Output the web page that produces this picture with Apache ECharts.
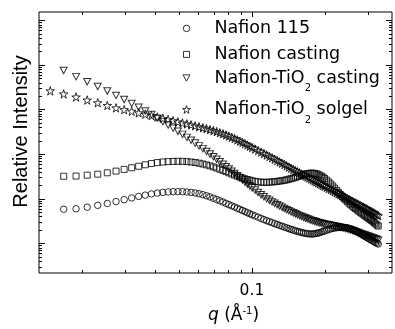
<!DOCTYPE html>
<html>
<head>
<meta charset="utf-8">
<script src="https://cdn.jsdelivr.net/npm/echarts@6/dist/echarts.min.js"></script>
<style>
  html, body { margin: 0; background: #fff; }
  #chart { width: 395px; height: 329px; }
</style>
</head>
<body>
<div id="chart"></div>
<script>
// scattering vector q (1/A), shared by all four curves
const qValues = [
  0.0148, 0.0168, 0.0189, 0.0210, 0.0232, 0.0254, 0.0276, 0.0298, 0.0320, 0.0342,
  0.0364, 0.0386, 0.0408, 0.0430, 0.0452, 0.0474, 0.0496, 0.0518, 0.0540, 0.0562,
  0.0584, 0.0606, 0.0628, 0.0650, 0.0672, 0.0694, 0.0716, 0.0738, 0.0760, 0.0782,
  0.0804, 0.0826, 0.0848, 0.0870, 0.0892, 0.0914, 0.0936, 0.0958, 0.0980, 0.1002,
  0.103, 0.106, 0.109, 0.112, 0.115, 0.118, 0.121, 0.124, 0.127, 0.130,
  0.133, 0.136, 0.139, 0.142, 0.145, 0.148, 0.151, 0.154, 0.157, 0.160,
  0.163, 0.166, 0.169, 0.172, 0.175, 0.178, 0.181, 0.184, 0.187, 0.190,
  0.193, 0.196, 0.199, 0.203, 0.207, 0.211, 0.215, 0.219, 0.223, 0.227,
  0.231, 0.235, 0.239, 0.243, 0.247, 0.251, 0.255, 0.259, 0.263, 0.267,
  0.271, 0.275, 0.279, 0.283, 0.287, 0.291, 0.295, 0.299, 0.303, 0.307,
  0.311, 0.315, 0.319, 0.323, 0.327, 0.331
];

// relative intensity (arb. units), null = no point at that q
const nafion115 = [
  null, 5.82, 5.94, 6.45, 7.10, 7.83, 8.62, 9.50, 10.42, 11.25,
  12.02, 12.78, 13.38, 13.87, 14.15, 14.37, 14.44, 14.37, 14.15, 13.87,
  13.45, 12.91, 12.33, 11.66, 10.96, 10.26, 9.60, 8.98, 8.41, 7.87,
  7.36, 6.92, 6.51, 6.12, 5.76, 5.45, 5.15, 4.87, 4.60, 4.37,
  4.11, 3.85, 3.62, 3.41, 3.22, 3.06, 2.91, 2.76, 2.64, 2.52,
  2.41, 2.31, 2.22, 2.13, 2.05, 1.98, 1.91, 1.85, 1.80, 1.75,
  1.71, 1.67, 1.65, 1.63, 1.62, 1.62, 1.64, 1.67, 1.70, 1.74,
  1.79, 1.85, 1.90, 1.97, 2.04, 2.11, 2.16, 2.21, 2.24, 2.26,
  2.28, 2.28, 2.26, 2.24, 2.21, 2.16, 2.11, 2.04, 1.97, 1.89,
  1.82, 1.74, 1.66, 1.58, 1.51, 1.44, 1.39, 1.32, 1.27, 1.22,
  1.17, 1.12, 1.08, 1.04, 1.005, 0.965
];
const nafionCasting = [
  null, 31.86, 32.19, 33.71, 35.47, 38.09, 41.56, 45.33, 49.43, 53.37,
  57.62, 61.56, 64.45, 66.46, 67.84, 68.53, 68.88, 68.53, 67.84, 66.46,
  64.78, 62.52, 60.02, 57.33, 54.46, 51.48, 48.68, 45.79, 43.07, 40.51,
  38.09, 35.84, 33.88, 32.03, 30.43, 29.07, 27.91, 26.93, 25.98, 25.20,
  24.43, 23.82, 23.46, 23.34, 23.34, 23.46, 23.70, 24.06, 24.43, 24.81,
  25.32, 25.85, 26.51, 27.35, 28.19, 29.07, 30.12, 31.22, 32.36, 33.53,
  34.57, 35.65, 36.39, 36.95, 37.33, 37.33, 36.95, 36.21, 35.12, 33.71,
  32.03, 30.28, 28.49, 26.12, 23.70, 21.40, 19.22, 17.28, 15.43, 13.87,
  12.52, 11.30, 10.26, 9.36, 8.58, 7.91, 7.32, 6.82, 6.35, 5.97,
  5.62, 5.28, 4.99, 4.72, 4.46, 4.22, 4.01, 3.79, 3.60, 3.41,
  3.24, 3.06, 2.89, 2.73, 2.58, 2.44
];
const tio2Casting = [
  null, 7472, 5445, 4176, 3270, 2585, 2065, 1666, 1359, 1119,
  921.5, 766.9, 638.2, 533.7, 451.0, 381.0, 323.6, 276.2, 237.0, 204.4,
  176.2, 152.8, 132.4, 114.8, 100.0, 87.6, 76.7, 67.15, 59.11, 52.29,
  46.27, 41.14, 36.58, 32.69, 29.22, 26.25, 23.58, 21.29, 19.22, 17.54,
  15.59, 13.80, 12.33, 11.07, 10.05, 9.21, 8.49, 7.87, 7.32, 6.85,
  6.41, 6.03, 5.67, 5.36, 5.07, 4.82, 4.58, 4.37, 4.18, 3.99,
  3.83, 3.68, 3.55, 3.42, 3.30, 3.20, 3.11, 3.03, 2.95, 2.88,
  2.82, 2.76, 2.71, 2.65, 2.60, 2.55, 2.49, 2.44, 2.39, 2.35,
  2.30, 2.25, 2.21, 2.15, 2.10, 2.04, 1.99, 1.94, 1.88, 1.83,
  1.77, 1.72, 1.67, 1.62, 1.58, 1.54, 1.50, 1.46, 1.42, 1.39,
  1.35, 1.32, 1.28, 1.25, 1.22, 1.18
];
const tio2Solgel = [
  2612, 2229, 1903, 1624, 1415, 1227, 1085, 990, 912, 841,
  783, 729, 679, 631, 594, 559, 526, 497, 475, 451,
  428.5, 409.3, 388.9, 371.4, 352.9, 335.4, 318.7, 301.3, 284.8, 267.9,
  252.0, 237.0, 221.8, 207.6, 194.2, 181.8, 170.1, 159.2, 148.9, 140.1,
  129.7, 119.6, 110.7, 102.6, 95.0, 88.5, 82.4, 76.7, 71.4, 66.5,
  62.2, 58.2, 54.5, 51.0, 47.9, 45.1, 42.4, 40.1, 37.9, 35.8,
  33.9, 32.2, 30.6, 29.1, 27.6, 26.2, 24.9, 23.8, 22.8, 21.7,
  20.8, 19.8, 18.9, 17.9, 16.9, 16.0, 15.1, 14.37, 13.58, 12.91,
  12.27, 11.66, 11.07, 10.52, 10.05, 9.60, 9.17, 8.76, 8.36, 7.99,
  7.67, 7.32, 7.03, 6.75, 6.48, 6.22, 5.97, 5.73, 5.50, 5.28,
  5.10, 4.89, 4.70, 4.51, 4.33, 4.16
];

const seriesNames = ["Nafion 115", "Nafion casting", "Nafion-TiO2 casting", "Nafion-TiO2 solgel"];

// tick marks (drawn inside the frame on all four sides)
const xLabelValues = [0.1];
const xMajorTicks = [0.1];
const xMinorTicks = [0.02, 0.03, 0.04, 0.05, 0.06, 0.07, 0.08, 0.09, 0.2, 0.3];
const yMajorTicks = [1, 10, 100, 1000, 10000, 100000];
const yMinorTicks = [0.3, 0.4, 0.5, 0.6, 0.7, 0.8, 0.9];
const yMinorSteps = [2, 3, 4, 5, 6, 7, 8, 9];

[nafion115, nafionCasting, tio2Casting, tio2Solgel].forEach(function (arr) {
  if (arr.length !== qValues.length) throw new Error("length mismatch " + arr.length);
});

const starPath = "path://M50,2L61.2,36.5L97.6,36.5L68.2,57.9L79.4,92.5L50,71.1L20.6,92.5L31.8,57.9L2.4,36.5L38.8,36.5Z";
const downTriangle = "path://M0,0L100,0L50,90Z";
const font = "DejaVu Sans";

function pairs(values) {
  const out = [];
  qValues.forEach(function (q, i) {
    if (values[i] != null) out.push([q, values[i]]);
  });
  return out;
}

function tickRenderer(dir) {
  return function (params, api) {
    const cs = params.coordSys;
    const major = api.value(2) === 1;
    let lines;
    if (dir === "x") {
      const len = major ? 5 : 3;
      const px = Math.round(api.coord([api.value(0), 1])[0]) + 0.5;
      const b = cs.y + cs.height;
      lines = [[px, b, px, b - len], [px, cs.y, px, cs.y + len]];
    } else {
      const len = major ? 6 : 3;
      const py = Math.round(api.coord([0.1, api.value(1)])[1]) + 0.5;
      const r = cs.x + cs.width;
      lines = [[cs.x, py, cs.x + len, py], [r, py, r - len, py]];
    }
    return {
      type: "group",
      children: lines.map(function (l) {
        return {
          type: "line",
          shape: { x1: l[0], y1: l[1], x2: l[2], y2: l[3] },
          style: { stroke: "#000", lineWidth: 1 }
        };
      })
    };
  };
}

const xTickData = xMinorTicks.map(v => [v, 1, 0]).concat(xMajorTicks.map(v => [v, 1, 1]));
let yTickData = yMajorTicks.map(v => [0.1, v, 1]).concat(yMinorTicks.map(v => [0.1, v, 0]));
yMajorTicks.forEach(function (d) {
  yMinorSteps.forEach(function (s) {
    if (d * s < 152760) yTickData.push([0.1, d * s, 0]);
  });
});

function scatter(name, values, symbol, size, rotate) {
  return {
    name: name,
    type: "scatter",
    data: pairs(values),
    symbol: symbol,
    symbolSize: size,
    symbolRotate: rotate || 0,
    itemStyle: { color: "rgba(0,0,0,0)", borderColor: "#000", borderWidth: 1 },
    emphasis: { disabled: true },
    silent: true
  };
}

// one legend per entry so each row sits where the original puts it
function legendItem(name, icon, top, size) {
  return {
    data: [name],
    icon: icon,
    symbolRotate: 0,
    orient: "vertical",
    left: 186 - size / 2,
    top: top,
    padding: 0,
    itemWidth: size,
    itemHeight: size,
    selectedMode: false,
    itemStyle: { color: "#fff", borderColor: "#000", borderWidth: 1 },
    formatter: function (n) {
      if (n.indexOf("TiO2") < 0) return n;
      const parts = n.split("TiO2");
      return "{m|" + parts[0] + "TiO}{sub|2}{m|" + parts[1] + "}";
    },
    textStyle: {
      fontFamily: font,
      fontSize: 17.5,
      lineHeight: 20,
      color: "#000",
      padding: [0, 0, 0, 23 - size / 2],
      rich: {
        m: { fontFamily: font, fontSize: 17.5, lineHeight: 20, color: "#000", verticalAlign: "top", padding: [6.75, 0, 0, 0] },
        sub: { fontFamily: font, fontSize: 10, lineHeight: 31, color: "#000", verticalAlign: "bottom" }
      }
    }
  };
}

const chart = echarts.init(document.getElementById("chart"));
chart.setOption({
  animation: false,
  backgroundColor: "#fff",
  grid: {
    left: 39, right: 2, top: 12, bottom: 53.5,
    show: true, borderColor: "#000", borderWidth: 1,
    containLabel: false
  },
  legend: [
    legendItem(seriesNames[0], "circle", 18.4, 6.5),
    legendItem(seriesNames[1], "rect", 44.4, 6),
    legendItem(seriesNames[2], downTriangle, 62.5, 7),
    legendItem(seriesNames[3], starPath, 94, 8)
  ],
  xAxis: {
    type: "log",
    logBase: 10,
    min: 0.0133,
    max: 0.377,
    axisLine: { show: false },
    axisTick: { show: false },
    splitLine: { show: false },
    axisLabel: {
      margin: 10,
      fontFamily: font,
      fontSize: 15.5,
      color: "#000",
      formatter: function (v) {
        return xLabelValues.some(t => Math.abs(t - v) < 1e-9) ? String(v) : "";
      }
    },
    name: "{i|q} (Å{s|-1})",
    nameLocation: "middle",
    nameGap: 33,
    nameTextStyle: {
      fontFamily: font,
      fontSize: 17,
      color: "#000",
      padding: [0, 0, 0, 36],
      rich: {
        i: { fontFamily: font, fontSize: 17, fontStyle: "italic", color: "#000" },
        s: { fontFamily: font, fontSize: 10, padding: [0, 0, 9, 0], color: "#000" }
      }
    }
  },
  yAxis: {
    type: "log",
    logBase: 10,
    min: 0.2163,
    max: 152760,
    axisLine: { show: false },
    axisTick: { show: false },
    splitLine: { show: false },
    axisLabel: { show: false },
    name: "Relative Intensity",
    nameLocation: "middle",
    nameGap: 8,
    nameTextStyle: { fontFamily: "Liberation Sans", fontSize: 20, color: "#000", padding: [0, 0, 0, 22] }
  },
  series: [
    scatter(seriesNames[0], nafion115, "circle", 6.5),
    scatter(seriesNames[1], nafionCasting, "rect", 6),
    scatter(seriesNames[2], tio2Casting, "triangle", [7, 6.5], 180),
    scatter(seriesNames[3], tio2Solgel, starPath, 8.5),
    {
      type: "custom",
      silent: true,
      clip: false,
      renderItem: tickRenderer("x"),
      data: xTickData,
      z: 3
    },
    {
      type: "custom",
      silent: true,
      clip: false,
      renderItem: tickRenderer("y"),
      data: yTickData,
      z: 3
    }
  ]
});
</script>
</body>
</html>
